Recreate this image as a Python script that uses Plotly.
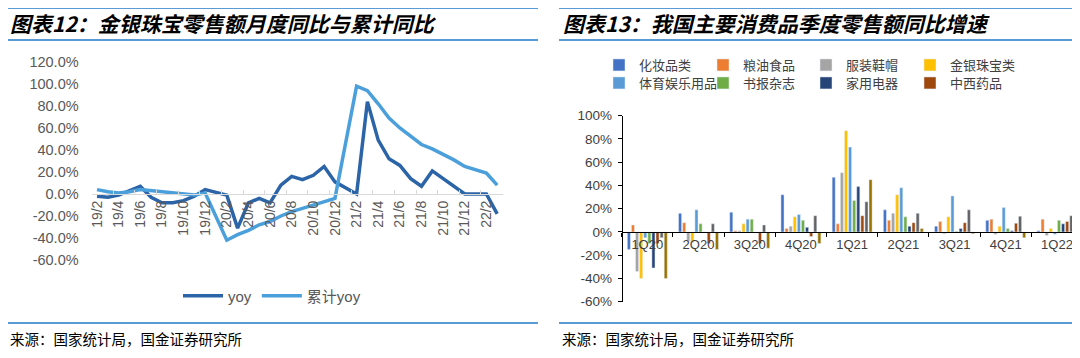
import plotly.graph_objects as go

# page body adds an 8px margin, so the figure is 8px smaller than the window
OFF = 8
W, H = 1080 - OFF, 358 - OFF

# ---------------- data: left panel (monthly) ----------------
months = ["19/2", "19/3", "19/4", "19/5", "19/6", "19/7", "19/8", "19/9", "19/10", "19/11",
          "19/12", "20/1", "20/2", "20/3", "20/4", "20/5", "20/6", "20/7", "20/8", "20/9",
          "20/10", "20/11", "20/12", "21/1", "21/2", "21/3", "21/4", "21/5", "21/6", "21/7",
          "21/8", "21/9", "21/10", "21/11", "21/12", "22/1", "22/2", "22/3"]
yoy = [-2, -3, -1, 3, 7, -3, -8, -8, -6, -2,
       4, None, -1, -31, -8, -4, -8, 8, 16, 13,
       17, 25, 11, None, 0, 84, 49, 32, 26, 14,
       7, 21, 14, 7, 0, None, 0, -18]
cum_yoy = [4, 2, 1, 2, 4, 3, 2, 1, 0, -1,
           1, None, -42, -37, -33, -28, -25, -20, -16, -13,
           -10, -7, -4, None, 98, 94, 82, 69, 60, 52,
           45, 41, 36, 31, 25, None, 19, 8]
left_tickvals = [-60, -40, -20, 0, 20, 40, 60, 80, 100, 120]
left_ticktext = ["-60.0%", "-40.0%", "-20.0%", "0.0%", "20.0%", "40.0%", "60.0%", "80.0%", "100.0%", "120.0%"]

# ---------------- data: right panel (quarterly) ----------------
quarters = ["1Q20", "2Q20", "3Q20", "4Q20", "1Q21", "2Q21", "3Q21", "4Q21", "1Q22"]
cosmetics = [-15, 16, 17, 32, 47, 19, 5, 10, 1]
grain_oil = [6, 8, 1, 3, 7, 10, 9, 11, 11]
apparel = [-34, -8, 1, 5, 51, 16, -1.5, -2, -3]
jewelry = [-40, -9, 7, 13, 87, 32, 13, 5, 3]
sports = [-5, 19, 11, 15, 73, 38, 31, 21, -2]
books = [-10, 7, 11, 10, 27, 13, 0.5, 3, 10]
appliances = [-31, 0, -1, 4, 39, 5, 3, 1, 7]
medicine = [-10, -10, -10, -4, 14, 8, 8, 7.5, 9]
series9 = [-5, 7, 6, 14, 26, 16, 19, 13.5, 14]
series10 = [-40, -15, -14, -10, 45, 3, -1.5, -5, -5]
right_tickvals = [-60, -40, -20, 0, 20, 40, 60, 80, 100]
right_ticktext = ["-60%", "-40%", "-20%", "0%", "20%", "40%", "60%", "80%", "100%"]

bar_names = ["化妆品类", "粮油食品", "服装鞋帽", "金银珠宝类",
             "体育娱乐用品", "书报杂志", "家用电器", "中西药品", "系列9", "系列10"]
bar_values = [cosmetics, grain_oil, apparel, jewelry, sports, books,
              appliances, medicine, series9, series10]
bar_colors = ["#4472C4", "#ED7D31", "#A5A5A5", "#FFC000", "#5B9BD5",
              "#70AD47", "#264478", "#9E480E", "#636363", "#997300"]
n_legend = 8  # only the first eight series appear in the legend


def px_x(p):
    return max(0.0, (p - OFF) / W)


def px_y(p):
    return min(1.0, 1 - (p - OFF) / H)


CJK = "Noto Sans CJK SC"
LAT = "Liberation Sans, Arial, Noto Sans CJK SC"

fig = go.Figure()

fig.add_trace(go.Scatter(x=months, y=yoy, name="yoy", mode="lines", connectgaps=True,
                         line=dict(color="#2C64A8", width=3.5), xaxis="x", yaxis="y",
                         legend="legend"))
fig.add_trace(go.Scatter(x=months, y=cum_yoy, name="累计yoy", mode="lines", connectgaps=True,
                         line=dict(color="#4B9FDB", width=3.5), xaxis="x", yaxis="y",
                         legend="legend"))

# legend grid for the right panel: 4 columns x 2 rows, one legend box per entry
col_text_x = [638, 742, 845, 949]
row_y = [65, 83]
legend_boxes = {}
for i, (name, vals, col) in enumerate(zip(bar_names, bar_values, bar_colors)):
    show = i < n_legend
    lg = "legend%d" % (i + 2) if show else "legend2"
    if show:
        legend_boxes[lg] = dict(orientation="h", x=px_x(col_text_x[i % 4] - 39),
                                y=px_y(row_y[i // 4]), xanchor="left", yanchor="middle",
                                font=dict(family=CJK, size=13, color="#404040"),
                                itemwidth=30, bgcolor="rgba(0,0,0,0)")
    fig.add_trace(go.Bar(x=quarters, y=vals, name=name, marker_color=col,
                         xaxis="x2", yaxis="y2", legend=lg, showlegend=show))

# geometry
lx0, lx1 = px_x(91.6), px_x(502.6)
ly0, ly1 = px_y(260), px_y(62)
l_zero = ly0 + (60 / 180) * (ly1 - ly0)

rx0, rx1 = px_x(621.7), 1.0
ry0, ry1 = px_y(301.7), px_y(115.7)
r_zero = ry0 + (60 / 160) * (ry1 - ry0)

fig.update_layout(
    width=W, height=H,
    margin=dict(l=0, r=0, t=0, b=0, autoexpand=False),
    paper_bgcolor="white", plot_bgcolor="white",
    font=dict(family=LAT, color="#595959"),
    bargap=0.2, bargroupgap=0.25,
    xaxis=dict(domain=[lx0, lx1], type="category", range=[-0.5, 37.5],
               anchor="free", position=l_zero, automargin=False,
               showline=True, linecolor="#D9D9D9", linewidth=1,
               ticks="inside", ticklen=4, tickcolor="#D9D9D9", tickson="boundaries",
               dtick=2, tickangle=-90, tickfont=dict(size=14, color="#595959"),
               showgrid=False, zeroline=False),
    yaxis=dict(domain=[ly0, ly1], range=[-60, 120], anchor="free", position=lx0,
               automargin=False,
               tickvals=left_tickvals, ticktext=left_ticktext,
               tickfont=dict(size=14.5, color="#595959"), ticklabelstandoff=13,
               showline=False, showgrid=False, zeroline=False),
    xaxis2=dict(domain=[rx0, rx1], type="category", range=[-0.5, 8.45],
                anchor="free", position=r_zero, automargin=False,
                showline=True, linecolor="#000000", linewidth=1,
                ticks="outside", ticklen=4, tickcolor="#000000", tickson="boundaries",
                tickfont=dict(size=13, color="#404040"),
                showgrid=False, zeroline=False),
    yaxis2=dict(domain=[ry0, ry1], range=[-60, 100], anchor="free", position=rx0,
                automargin=False,
                tickvals=right_tickvals, ticktext=right_ticktext,
                ticks="outside", ticklen=4, tickcolor="#000000",
                showline=True, linecolor="#000000", linewidth=1,
                tickfont=dict(size=13.5, color="#404040"), ticklabelstandoff=3,
                showgrid=False, zeroline=False),
    legend=dict(orientation="h", x=px_x(178), y=px_y(296), xanchor="left", yanchor="middle",
                font=dict(family=LAT + ", " + CJK, size=15, color="#595959"),
                itemwidth=40, bgcolor="rgba(0,0,0,0)", traceorder="normal"),
    **legend_boxes,
)

line_col = "#5B9BD5"
shapes = []
for (a, b) in [(5, 538), (559, 1080)]:
    for yy in (6, 40, 323):
        shapes.append(dict(type="line", xref="paper", yref="paper",
                           x0=px_x(a), x1=px_x(b), y0=px_y(yy), y1=px_y(yy),
                           line=dict(color=line_col, width=2)))
fig.update_layout(shapes=shapes)

annos = [
    dict(text="<b><i>图表12：金银珠宝零售额月度同比与累计同比</i></b>", x=px_x(8), y=px_y(23),
         font=dict(family=CJK, size=21, color="#000000")),
    dict(text="<b><i>图表13：我国主要消费品季度零售额同比增速</i></b>", x=px_x(561), y=px_y(23),
         font=dict(family=CJK, size=21, color="#000000")),
    dict(text="来源：国家统计局，国金证券研究所", x=px_x(8), y=px_y(338),
         font=dict(family=CJK, size=14.5, color="#000000")),
    dict(text="来源：国家统计局，国金证券研究所", x=px_x(560), y=px_y(338),
         font=dict(family=CJK, size=14.5, color="#000000")),
]
for a in annos:
    a.update(xref="paper", yref="paper", xanchor="left", yanchor="middle", showarrow=False)
fig.update_layout(annotations=annos)

fig.write_html("out.html")
